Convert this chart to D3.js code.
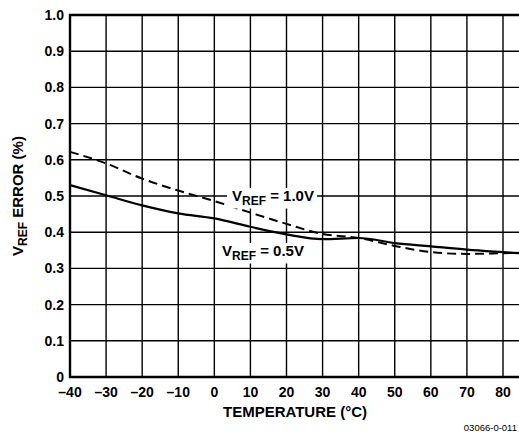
<!DOCTYPE html>
<html>
<head>
<meta charset="utf-8">
<script src="https://cdn.jsdelivr.net/npm/d3@7"></script>
<style>
  body { margin: 0; background: #fff; }
  svg { display: block; font-family: "Liberation Sans", Arial, sans-serif; font-weight: bold; }
</style>
</head>
<body>
<svg width="519" height="433"></svg>
<script>
// values
const temps = [-40, -30, -20, -10, 0, 10, 20, 30, 40, 50, 60, 70, 80, 84.5];
const vref05 = [0.53, 0.502, 0.474, 0.452, 0.438, 0.415, 0.394, 0.381, 0.384, 0.370, 0.361, 0.352, 0.345, 0.342];
const vref10 = [0.622, 0.59, 0.548, 0.515, 0.486, 0.454, 0.423, 0.395, 0.384, 0.362, 0.345, 0.340, 0.342, 0.343];
const xTicks = [-40, -30, -20, -10, 0, 10, 20, 30, 40, 50, 60, 70, 80];
const yTicks = [0, 0.1, 0.2, 0.3, 0.4, 0.5, 0.6, 0.7, 0.8, 0.9, 1.0];

const svg = d3.select("svg");
const plotLeft = 70, plotTop = 15, plotBottom = 377, plotRight = 519;

const x = d3.scaleLinear().domain([-40, 80]).range([plotLeft, 503]);
const y = d3.scaleLinear().domain([0, 1]).range([plotBottom, plotTop]);

const grid = svg.append("g").attr("stroke", "#000").attr("stroke-width", 1.4);

grid.selectAll("line.v")
    .data(xTicks.slice(1))
    .join("line")
    .attr("class", "v")
    .attr("x1", d => x(d)).attr("x2", d => x(d))
    .attr("y1", plotTop).attr("y2", plotBottom);

grid.selectAll("line.h")
    .data(yTicks.slice(1))
    .join("line")
    .attr("class", "h")
    .attr("x1", plotLeft).attr("x2", plotRight)
    .attr("y1", d => y(d)).attr("y2", d => y(d));

// frame
svg.append("path")
    .attr("d", `M${plotRight},${plotTop}H${plotLeft}V${plotBottom}H${plotRight}`)
    .attr("fill", "none")
    .attr("stroke", "#000")
    .attr("stroke-width", 2.4);

const line = d3.line()
    .x((d, i) => x(temps[i]))
    .y(d => y(d))
    .curve(d3.curveMonotoneX);

svg.append("path")
    .datum(vref10)
    .attr("d", line)
    .attr("fill", "none")
    .attr("stroke", "#000")
    .attr("stroke-width", 2)
    .attr("stroke-dasharray", "9,5");

svg.append("path")
    .datum(vref05)
    .attr("d", line)
    .attr("fill", "none")
    .attr("stroke", "#000")
    .attr("stroke-width", 2.2);

// curve labels with white background
function curveLabel(xp, yp, val) {
    const g = svg.append("g");
    const bg = g.append("rect").attr("fill", "#fff");
    const t = g.append("text")
        .attr("x", xp).attr("y", yp)
        .attr("font-size", 15);
    t.append("tspan").text("V");
    t.append("tspan").attr("font-size", 12).attr("dy", 3.5).text("REF");
    t.append("tspan").attr("dy", -3.5).text(" = " + val);
    const b = t.node().getBBox();
    bg.attr("x", b.x - 5).attr("y", b.y + 1).attr("width", b.width + 8).attr("height", b.height);
}
curveLabel(232, 201, "1.0V");
curveLabel(222, 256, "0.5V");

// y tick labels
svg.append("g")
    .selectAll("text")
    .data(yTicks)
    .join("text")
    .attr("x", 64)
    .attr("y", d => y(d) + 5)
    .attr("text-anchor", "end")
    .attr("font-size", 14)
    .text(d => d === 0 ? "0" : d.toFixed(1));

// x tick labels
svg.append("g")
    .selectAll("text")
    .data(xTicks)
    .join("text")
    .attr("x", d => x(d))
    .attr("y", 397)
    .attr("text-anchor", "middle")
    .attr("font-size", 14)
    .text(d => d < 0 ? "\u2013" + Math.abs(d) : d);

// axis titles
svg.append("text")
    .attr("x", 295).attr("y", 417)
    .attr("text-anchor", "middle")
    .attr("font-size", 15)
    .text("TEMPERATURE (°C)");

const yt = svg.append("text")
    .attr("transform", "translate(23,196) rotate(-90)")
    .attr("text-anchor", "middle")
    .attr("font-size", 15);
yt.append("tspan").text("V");
yt.append("tspan").attr("font-size", 12).attr("dy", 3.5).text("REF");
yt.append("tspan").attr("dy", -3.5).text(" ERROR (%)");

svg.append("text")
    .attr("x", 517).attr("y", 431)
    .attr("text-anchor", "end")
    .attr("font-size", 9.5)
    .attr("font-weight", "normal")
    .text("03066-0-011");
</script>
</body>
</html>
